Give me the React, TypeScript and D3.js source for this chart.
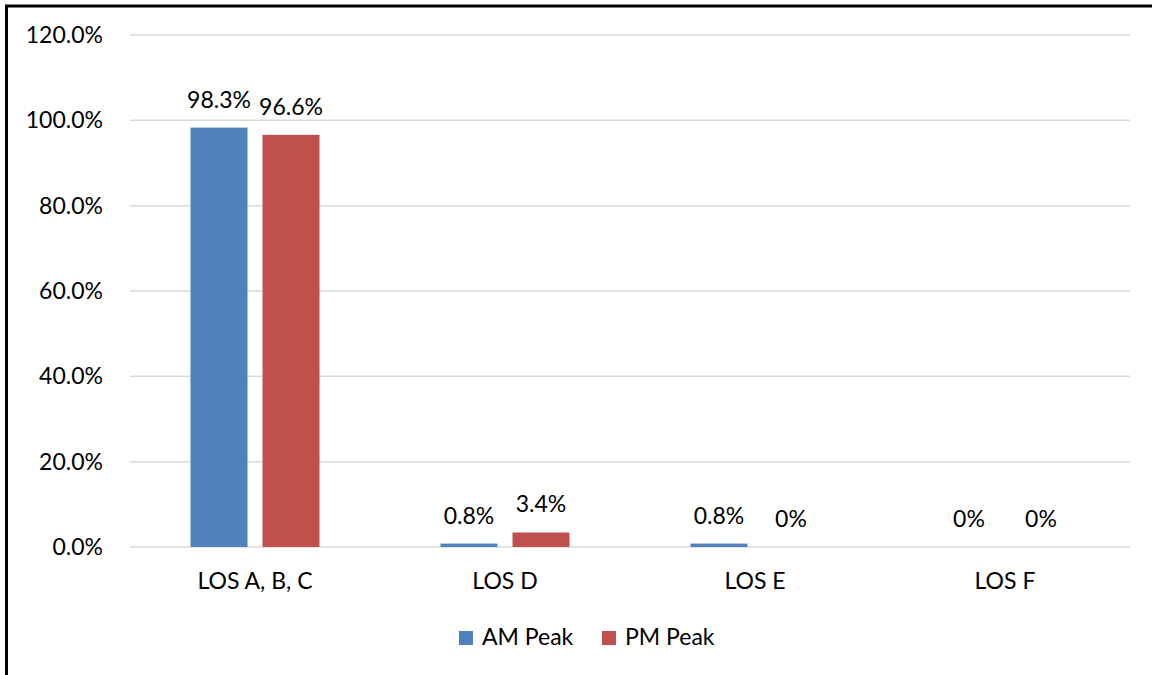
import React from "react";
import * as d3 from "d3";

const categories = ["LOS A, B, C", "LOS D", "LOS E", "LOS F"];
const seriesNames = ["AM Peak", "PM Peak"];
const amValues = [98.3, 0.8, 0.8, 0];
const pmValues = [96.6, 3.4, 0, 0];
const amLabels = ["98.3%", "0.8%", "0.8%", "0%"];
const pmLabels = ["96.6%", "3.4%", "0%", "0%"];
const yTicks = [0, 20, 40, 60, 80, 100, 120];
const colors = ["#4F81BD", "#C0504D"];

const W = 1152;
const H = 675;
const FONT = "Lato, 'Open Sans', sans-serif";
const FS = 23;

export default function App() {
  const left = 130, right = 1130, top = 35, bottom = 547;
  const x = d3.scaleBand<string>().domain(categories).range([left, right]).paddingInner(0).paddingOuter(0);
  const y = d3.scaleLinear().domain([0, 120]).range([bottom, top]);
  const barW = 57;
  const offsets = [-36, 36];
  const series = [amValues, pmValues];
  const labels = [amLabels, pmLabels];

  return (
    <svg width={W} height={H} style={{ position: "absolute", left: 0, top: 0, background: "#fff" }} fontFamily={FONT}>
      <rect x={0} y={0} width={W} height={H} fill="#fff" />
      {yTicks.map((t) => (
        <g key={t}>
          <line x1={left} x2={right} y1={y(t)} y2={y(t)} stroke="#d9d9d9" strokeWidth={1.5} />
          <text x={103} y={y(t) + 8} textAnchor="end" fontSize={FS} fill="#000">
            {d3.format(".1f")(t) + "%"}
          </text>
        </g>
      ))}
      {categories.map((c, i) => {
        const cx = x(c)! + x.bandwidth() / 2;
        return (
          <g key={c}>
            {series.map((vals, s) => {
              const bx = cx + offsets[s] - barW / 2;
              const v = vals[i];
              return (
                <g key={s}>
                  {v > 0 && (
                    <rect x={bx} y={y(v)} width={barW} height={y(0) - y(v)} fill={colors[s]} />
                  )}
                  <text x={cx + offsets[s]} y={y(v) - 20} textAnchor="middle" fontSize={FS} fill="#000">
                    {labels[s][i]}
                  </text>
                </g>
              );
            })}
            <text x={cx} y={589} textAnchor="middle" fontSize={FS} fill="#000">{c}</text>
          </g>
        );
      })}
      {seriesNames.map((n, s) => {
        const lx = [459, 602][s];
        return (
          <g key={n}>
            <rect x={lx} y={631} width={14} height={14} fill={colors[s]} />
            <text x={lx + 23} y={645} fontSize={FS} fill="#000">{n}</text>
          </g>
        );
      })}
      <path d={`M6.5,${H + 5} V6 H${W + 5}`} fill="none" stroke="#000" strokeWidth={3} />
    </svg>
  );
}
